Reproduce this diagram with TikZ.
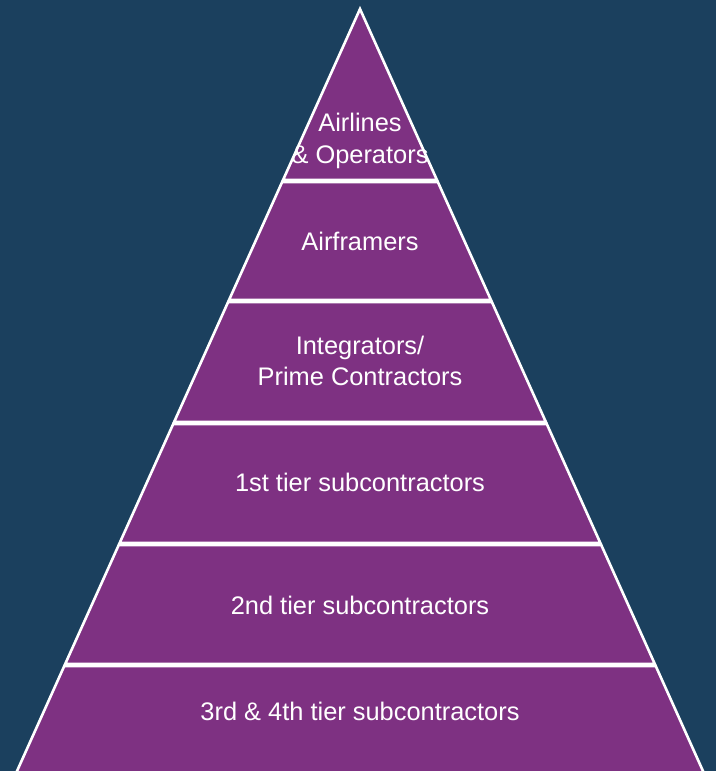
\documentclass[tikz,border=0pt]{standalone}
\usepackage{fontspec}
\usepackage{tikz}
\usetikzlibrary{calc}
\newfontfamily\tierfont{Liberation Sans}
\definecolor{chainblue}{HTML}{1B405E}
\definecolor{chainpurple}{HTML}{7E3182}

\begin{document}
\begin{tikzpicture}[x=1bp, y=-1bp,
        tierbox/.style={fill=chainpurple, draw=white, line width=2.6bp, line join=miter},
        tierlabel/.style={text=white, align=center, inner sep=0pt, font=\tierfont\fontsize{25.5}{31.5}\selectfont}
    ]
        \useasboundingbox (0,0) rectangle (716,771);
        \fill[chainblue] (0,0) rectangle (716,771);
        \clip (0,0) rectangle (716,771);

        % apex of the pyramid
        \coordinate (apex) at (360,9);
        \draw[tierbox] (apex) -- ({360+0.4501*(180-9)},180) -- ({360-0.4501*(180-9)},180) -- cycle;

        % the stacked tiers below the top
        \foreach \top/\bot in {182/300, 302/422, 424/543, 545/664, 666/786}
            \draw[tierbox] ({360-0.4501*(\top-9)},\top) -- ({360+0.4501*(\top-9)},\top)
                -- ({360+0.4501*(\bot-9)},\bot) -- ({360-0.4501*(\bot-9)},\bot) -- cycle;

        \node (airlines) [tierlabel] at (360,141) {Airlines\\\& Operators};
        \node (airframers) [tierlabel] at (360,241) {Airframers};
        \node (integrators) [tierlabel] at (360,361) {Integrators/\\Prime Contractors};
        \node (first) [tierlabel] at (360,482) {1st tier subcontractors};
        \node (second) [tierlabel] at (360,605) {2nd tier subcontractors};
        \node (third) [tierlabel] at (360,711) {3rd \& 4th tier subcontractors};
    \end{tikzpicture}
\end{document}
